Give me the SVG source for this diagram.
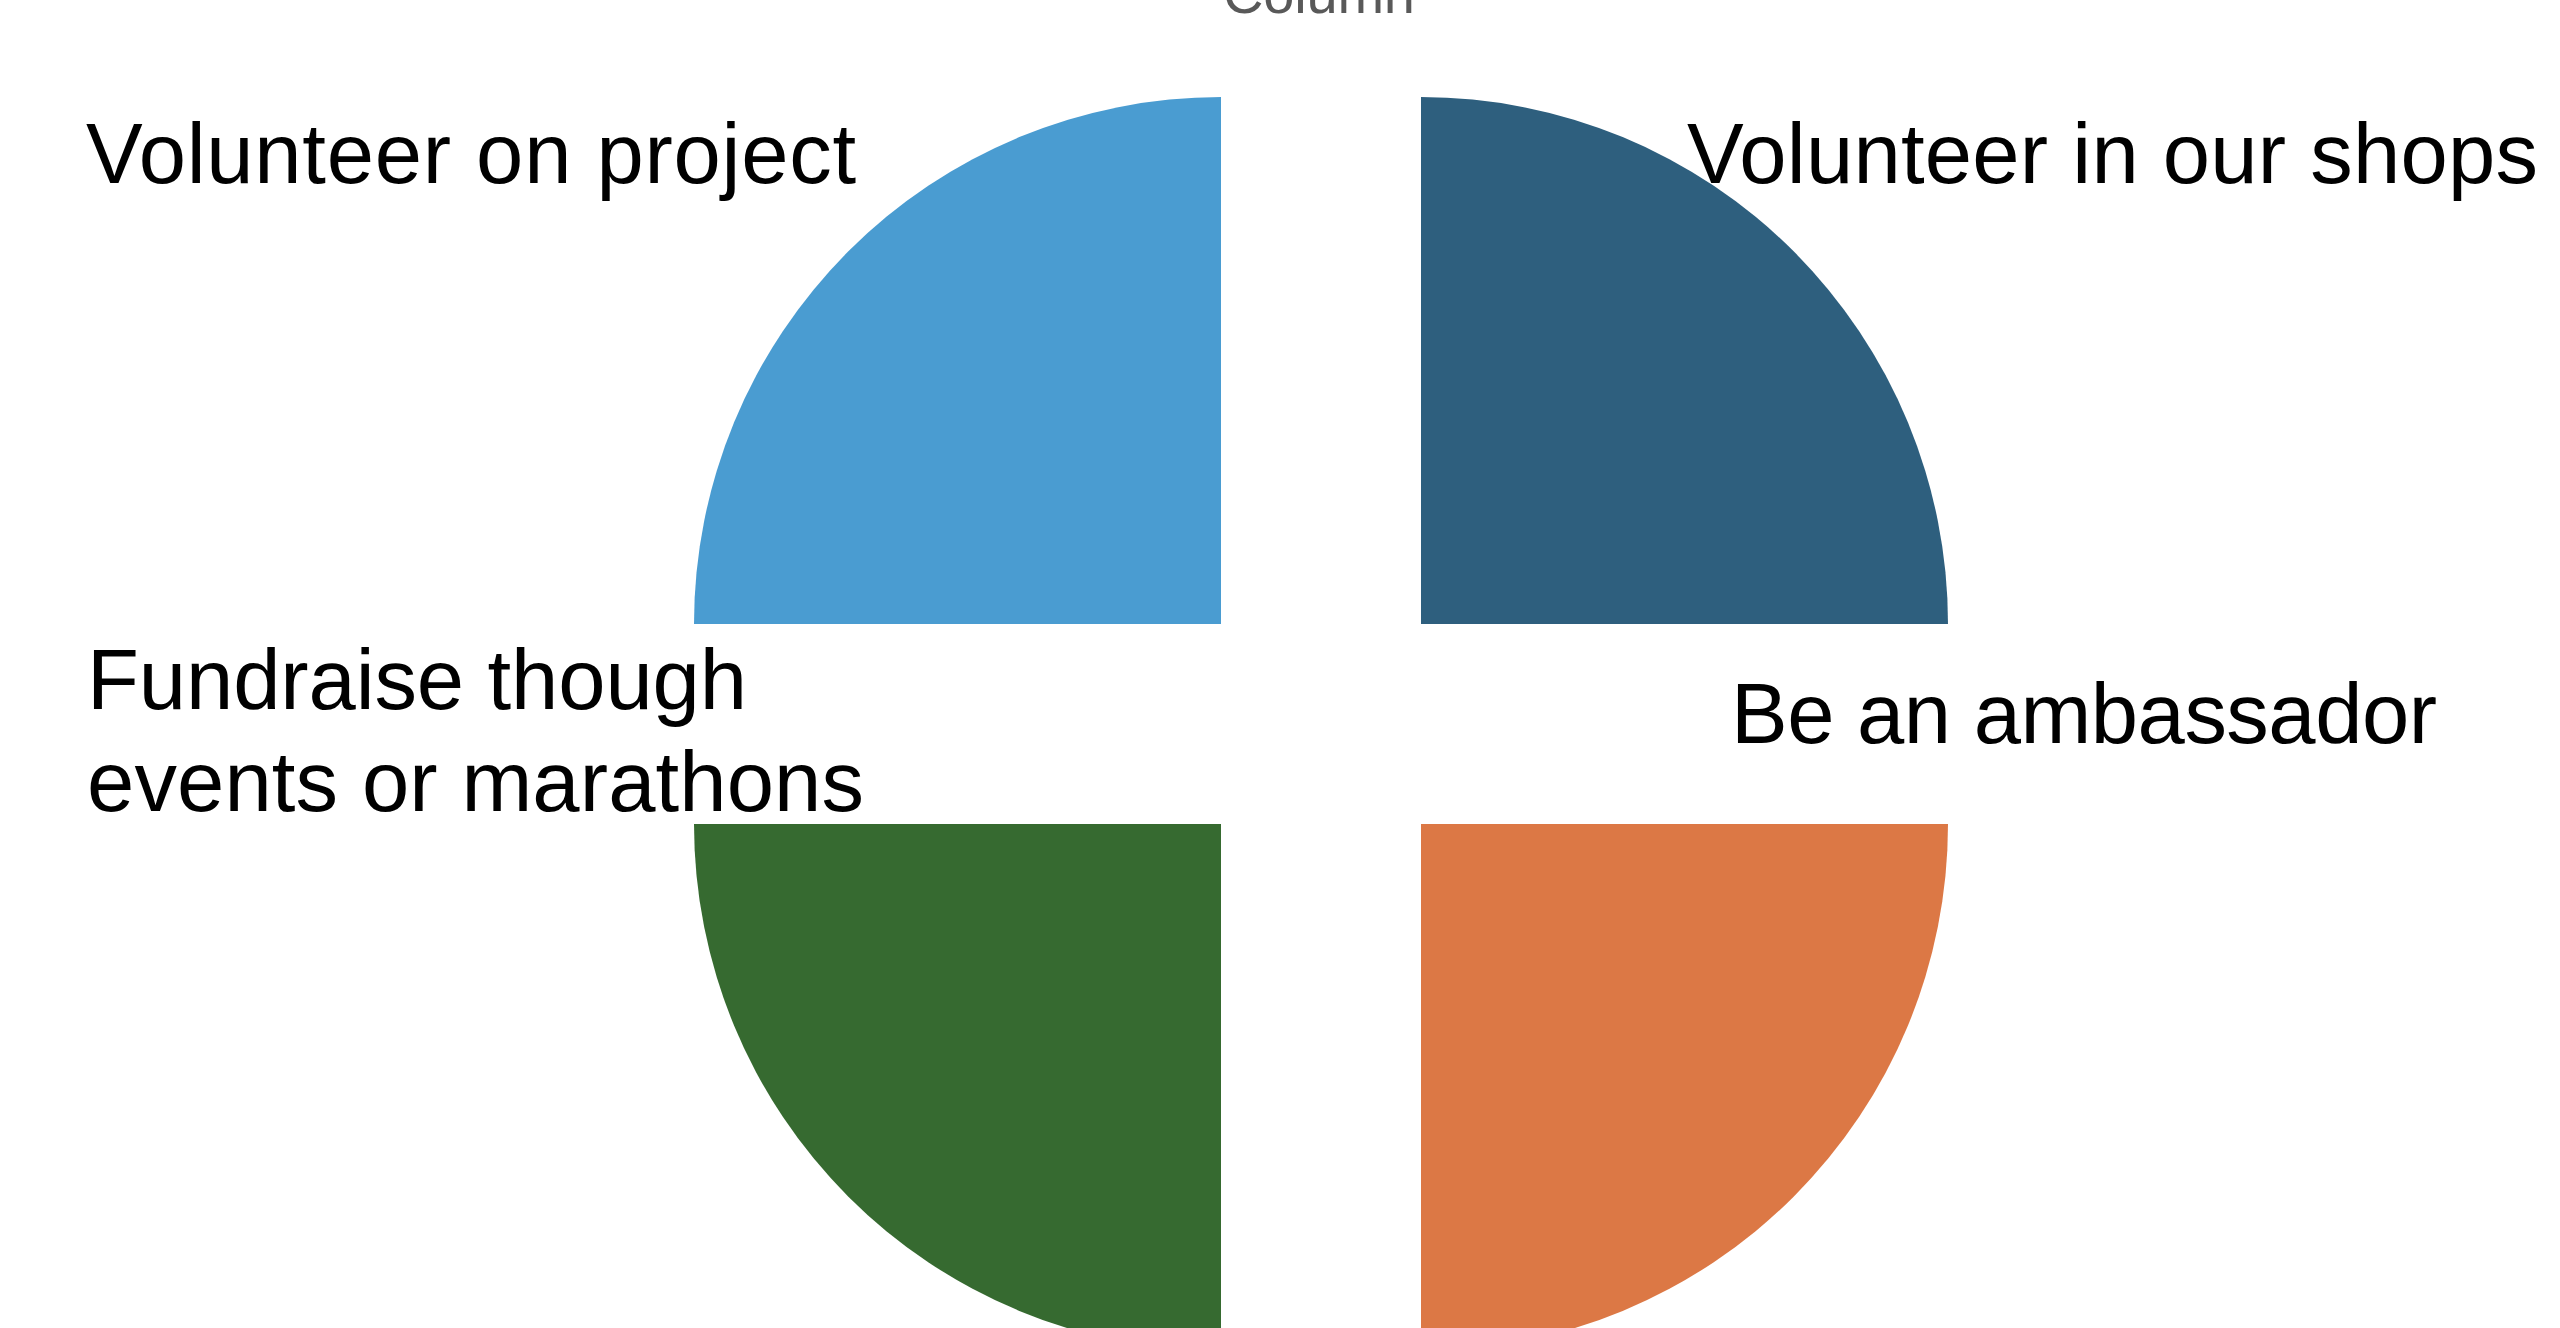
<svg xmlns="http://www.w3.org/2000/svg" width="2560" height="1328" viewBox="0 0 2560 1328">
<style>
.lbl{font-family:"Liberation Sans",Arial,sans-serif;font-size:85px;fill:#000000}
.title{font-family:"Liberation Sans",Arial,sans-serif;font-size:56px;fill:#595959}
</style>
<rect x="0" y="0" width="2560" height="1328" fill="#ffffff"/>
<text class="title" x="1319" y="13" text-anchor="middle" textLength="192">Column</text>
<g id="connectors"></g>
<g id="quad-tl">
<path d="M1221,624 L694,624 A527,527 0 0 1 1221,97 Z" fill="#4A9CD1"/>
</g>
<g id="quad-tr">
<path d="M1421,624 L1421,97 A527,527 0 0 1 1948,624 Z" fill="#2E5F7E"/>
</g>
<g id="quad-bl">
<path d="M1221,824 L1221,1351 A527,527 0 0 1 694,824 Z" fill="#366A30"/>
</g>
<g id="quad-br">
<path d="M1421,824 L1948,824 A527,527 0 0 1 1421,1351 Z" fill="#DC7845"/>
</g>
<g id="label-tl"><text class="lbl" x="86" y="183" textLength="770">Volunteer on project</text></g>
<g id="label-tr"><text class="lbl" x="1687" y="183" textLength="851">Volunteer in our shops</text></g>
<g id="label-bl"><text class="lbl" x="87" y="709" textLength="660">Fundraise though</text><text class="lbl" x="87" y="811" textLength="777">events or marathons</text></g>
<g id="label-br"><text class="lbl" x="1731" y="743" textLength="706">Be an ambassador</text></g>
</svg>
